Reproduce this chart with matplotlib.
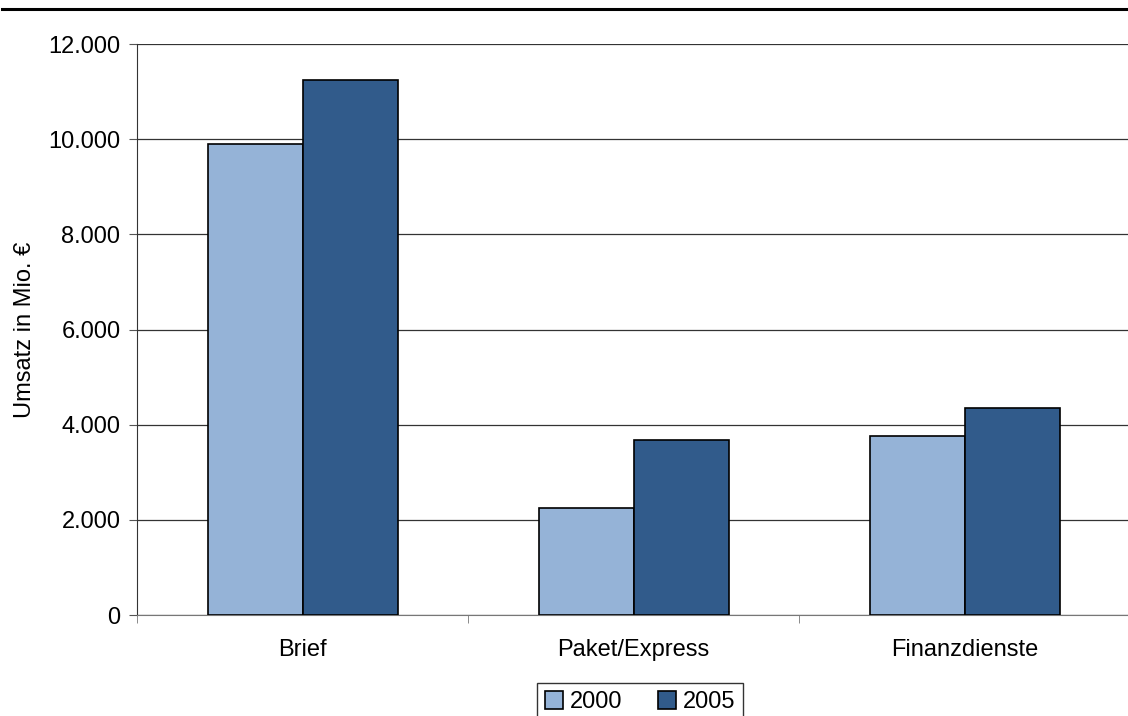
import matplotlib.pyplot as plt
from matplotlib.lines import Line2D
from matplotlib.ticker import FuncFormatter

categories = ["Brief", "Paket/Express", "Finanzdienste"]
years = ["2000", "2005"]
umsatz_2000 = [9900, 2240, 3770]
umsatz_2005 = [11250, 3680, 4360]
colors = ["#95B3D7", "#315B8B"]

plt.rcParams["font.family"] = ["Liberation Sans", "DejaVu Sans"]
fs = 17

fig = plt.figure(figsize=(11.28, 7.16), dpi=100)
ax = fig.add_axes([0.1215, 0.141, 0.8805, 0.7975])

width = 0.287
x = list(range(len(categories)))
ax.bar([i - width / 2 for i in x], umsatz_2000, width, color=colors[0],
       edgecolor="black", linewidth=1.2, label=years[0], zorder=3)
ax.bar([i + width / 2 for i in x], umsatz_2005, width, color=colors[1],
       edgecolor="black", linewidth=1.2, label=years[1], zorder=3)

ax.set_xlim(-0.5, 2.5)
ax.set_ylim(0, 12000)
ax.set_yticks(range(0, 12001, 2000))
ax.yaxis.set_major_formatter(FuncFormatter(lambda v, p: f"{int(v):,}".replace(",", ".")))
ax.grid(axis="y", color="#333333", linewidth=0.9, zorder=0)

ax.set_xticks(x)
ax.set_xticklabels(categories)
ax.set_xticks([-0.5, 0.5, 1.5, 2.5], minor=True)
ax.tick_params(axis="x", which="major", length=0, pad=17, labelsize=fs)
ax.tick_params(axis="x", which="minor", length=6, color="#777777", direction="out")
ax.tick_params(axis="y", length=6, color="#555555", pad=6, labelsize=fs)

for s in ["top", "right"]:
    ax.spines[s].set_visible(False)
ax.spines["left"].set_color("#333333")
ax.spines["bottom"].set_color("#777777")

ax.set_ylabel("Umsatz in Mio. €", fontsize=fs, va="center")
ax.yaxis.set_label_coords(-0.113, 0.5)

leg = fig.legend(loc="upper left", bbox_to_anchor=(0.476, 0.046), ncol=2,
                 fontsize=fs, frameon=True, fancybox=False, edgecolor="black",
                 handlelength=0.75, handleheight=0.75, handletextpad=0.3,
                 columnspacing=1.5, borderpad=0.35, borderaxespad=0)
leg.get_frame().set_linewidth(1.0)

fig.add_artist(Line2D([0.002, 1.0], [0.987, 0.987], color="black", linewidth=2.2))

fig.savefig("out.png", dpi=100)
